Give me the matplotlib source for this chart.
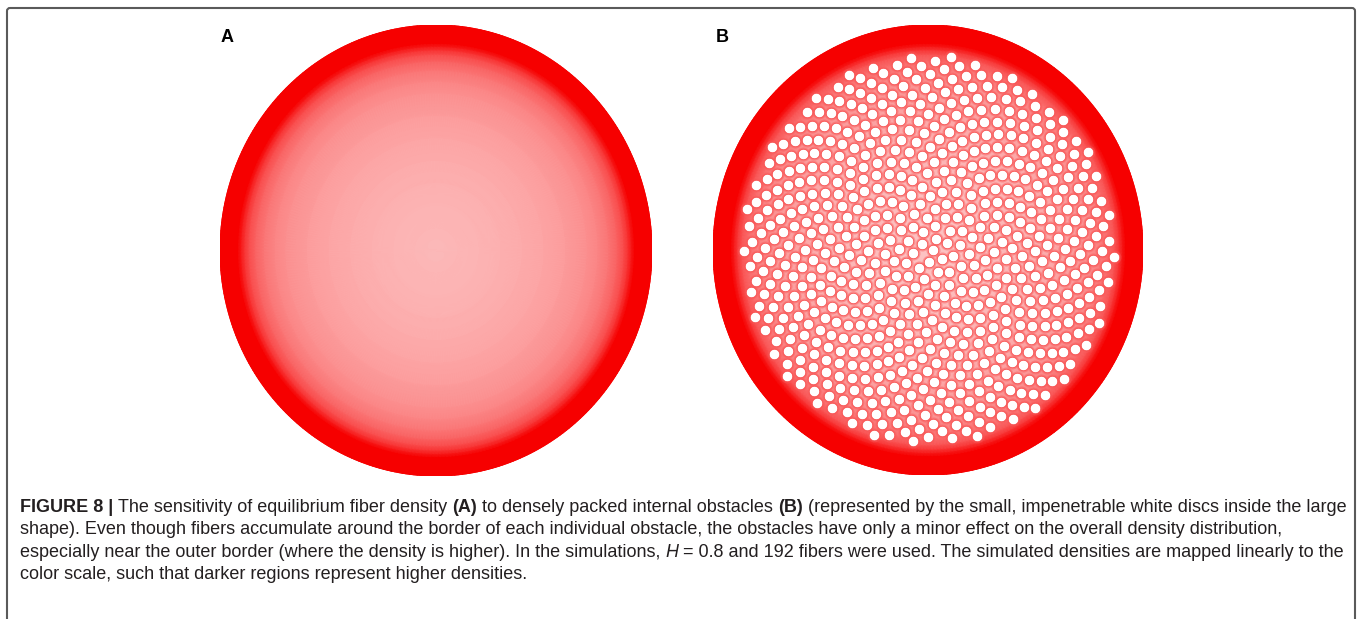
import numpy as np
import matplotlib
matplotlib.use("Agg")
import matplotlib.pyplot as plt
from matplotlib.colors import LinearSegmentedColormap
from matplotlib.patches import FancyBboxPatch
from matplotlib.transforms import IdentityTransform

# ---------------- data ----------------
panel_labels = ["A", "B"]

# radial density profile (normalised radius -> normalised density)
radius_A = [0.0, 0.10, 0.20, 0.30, 0.40, 0.50, 0.60, 0.70, 0.75, 0.80, 0.84, 0.87, 0.89, 0.905, 0.92, 1.0]
density_A = [0.28, 0.285, 0.295, 0.31, 0.33, 0.355, 0.39, 0.44, 0.48, 0.54, 0.62, 0.71, 0.81, 0.91, 1.0, 1.0]

radius_B = [0.0, 0.10, 0.20, 0.30, 0.40, 0.50, 0.60, 0.70, 0.75, 0.80, 0.84, 0.87, 0.89, 0.905, 0.92, 1.0]
density_B = [0.24, 0.245, 0.255, 0.27, 0.29, 0.315, 0.35, 0.40, 0.44, 0.50, 0.58, 0.68, 0.80, 0.91, 1.0, 1.0]

# internal obstacles in B (sunflower packing)
n_obstacles = 700
obstacle_zone = 0.865

caption_lines = [
    [("FIGURE 8 |", "bold", "normal"),
     (" The sensitivity of equilibrium fiber density ", "normal", "normal"),
     ("(A)", "bold", "normal"),
     (" to densely packed internal obstacles ", "normal", "normal"),
     ("(B)", "bold", "normal"),
     (" (represented by the small, impenetrable white discs inside the large", "normal", "normal")],
    [("shape). Even though fibers accumulate around the border of each individual obstacle, "
      "the obstacles have only a minor effect on the overall density distribution,", "normal", "normal")],
    [("especially near the outer border (where the density is higher). In the simulations, ", "normal", "normal"),
     ("H", "normal", "italic"),
     (" = 0.8 and 192 fibers were used. The simulated densities are mapped linearly to the", "normal", "normal")],
    [("color scale, such that darker regions represent higher densities.", "normal", "normal")],
]

# ---------------- figure ----------------
W, H = 1358, 619
fig = plt.figure(figsize=(W / 100, H / 100), dpi=100)

cmap = LinearSegmentedColormap.from_list("dens", [(1, 1, 1), (0.965, 0.0, 0.0)])


def px_axes(x0, y0, x1, y1):
    ax = fig.add_axes([x0 / W, 1 - y1 / H, (x1 - x0) / W, (y1 - y0) / H])
    ax.set_xlim(-1, 1)
    ax.set_ylim(-1, 1)
    ax.axis("off")
    return ax


def density_disc(ax, radii, dens):
    th = np.linspace(0, 2 * np.pi, 361)
    R, T = np.meshgrid(np.asarray(radii), th, indexing="ij")
    X, Y = R * np.cos(T), R * np.sin(T)
    C = np.repeat(np.asarray(dens)[:, None], len(th), axis=1)
    ax.pcolormesh(X, Y, C, cmap=cmap, vmin=0, vmax=1, shading="gouraud")
    ax.plot(np.cos(th), np.sin(th), color=cmap(1.0), lw=0.6)


axA = px_axes(220, 25, 652, 476)
density_disc(axA, radius_A, density_A)

axB = px_axes(713, 25, 1143, 475)
density_disc(axB, radius_B, density_B)

golden = np.pi * (3 - np.sqrt(5))
k = np.arange(n_obstacles)
r = obstacle_zone * np.sqrt((k + 0.5) / n_obstacles)
t = k * golden
ox, oy = r * np.cos(t), r * np.sin(t)
axB.scatter(ox, oy, s=(14 * 0.72) ** 2, color=(0.98, 0.35, 0.35), alpha=0.45, lw=0, zorder=3)
axB.scatter(ox, oy, s=(10.5 * 0.72) ** 2, color="white", edgecolors=(0.97, 0.25, 0.25),
            linewidths=0.5, zorder=4)

# panel labels
fig.text(221 / W, 1 - 38 / H, panel_labels[0], fontsize=13, fontweight="bold",
         family="Liberation Sans", va="center", ha="left")
fig.text(716 / W, 1 - 38 / H, panel_labels[1], fontsize=13, fontweight="bold",
         family="Liberation Sans", va="center", ha="left")

# frame
frame = FancyBboxPatch((7, -20), 1348, H - 8 + 20,
                       boxstyle="round,pad=0,rounding_size=3",
                       transform=IdentityTransform(), facecolor="none",
                       edgecolor="#5a5a5a", lw=1.5)
fig.patches.append(frame)

# caption
renderer = fig.canvas.get_renderer()
fam = ["Liberation Sans Narrow", "Liberation Sans"]


def width_of(s, size, weight, style):
    tt = fig.text(0, 0, s, fontsize=size, fontweight=weight, fontstyle=style, family=fam)
    w = tt.get_window_extent(renderer).width
    tt.remove()
    return w


def run_width(run, size):
    txt, wt, st = run
    core = txt.strip()
    w = width_of(core, size, wt, st) if core else 0
    sp = width_of("x x", size, "normal", "normal") - width_of("xx", size, "normal", "normal")
    w += sp * (len(txt) - len(txt.lstrip())) + sp * (len(txt) - len(txt.rstrip()))
    return w, sp


base = 11
line1_w = sum(run_width(rn, base)[0] for rn in caption_lines[0])
size = base * (1325 / line1_w)

baselines = [512, 534, 557, 579]
for line, yb in zip(caption_lines, baselines):
    x = 20.0
    for txt, wt, st in line:
        lead = len(txt) - len(txt.lstrip())
        w, sp = run_width((txt, wt, st), size)
        core = txt.strip()
        fig.text((x + lead * sp) / W, 1 - yb / H, core, fontsize=size, fontweight=wt,
                 fontstyle=st, family=fam, va="baseline", ha="left", color="#231f20")
        x += w

fig.savefig("out.png", dpi=100)
